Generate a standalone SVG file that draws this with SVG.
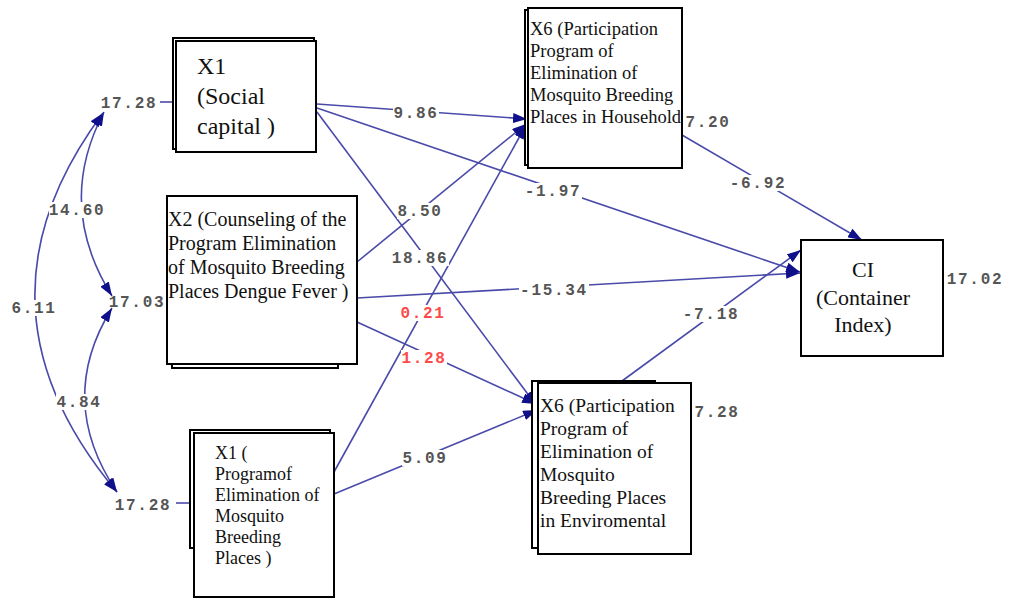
<svg xmlns="http://www.w3.org/2000/svg" width="1010" height="599" viewBox="0 0 1010 599">
<style>
.box{fill:#fff;stroke:#000;stroke-width:2}
.lbl{font-family:"Liberation Serif","DejaVu Serif",serif;fill:#111}
.edge{fill:none;stroke:#4a4aaa;stroke-width:1.6}
.num{font-family:"Liberation Mono","DejaVu Sans Mono",monospace;font-weight:bold;font-size:16px;letter-spacing:1.7px;fill:#555;text-anchor:middle}
.bg{fill:#fff}
.red{fill:#ff4a4a}
</style>
<defs>
<marker id="ah" markerUnits="userSpaceOnUse" markerWidth="14" markerHeight="10" viewBox="0 0 14 10" refX="14" refY="5" orient="auto-start-reverse">
<path d="M0,0 L14,5 L0,10 z" fill="#10108a"/>
</marker>
</defs>
<rect width="1010" height="599" fill="#fff"/>

<g id="connectors">
<path class="edge" d="M104,112 Q55,205 112,296" marker-start="url(#ah)" marker-end="url(#ah)"/>
<path class="edge" d="M103,113 Q-40,305 117,492" marker-start="url(#ah)" marker-end="url(#ah)"/>
<path class="edge" d="M112,308 Q55,400 117,492" marker-start="url(#ah)" marker-end="url(#ah)"/>
<path class="edge" d="M160,102 L176,102"/>
<path class="edge" d="M176,503 L190,503"/>
<path class="edge" d="M317,104 L527,119" marker-end="url(#ah)"/>
<path class="edge" d="M317,108 L800,272" marker-end="url(#ah)"/>
<path class="edge" d="M317,112 L536,405" marker-end="url(#ah)"/>
<path class="edge" d="M357,262 L526,124" marker-end="url(#ah)"/>
<path class="edge" d="M357,298 L800,273" marker-end="url(#ah)"/>
<path class="edge" d="M357,322 L536,404" marker-end="url(#ah)"/>
<path class="edge" d="M334,472 L526,125" marker-end="url(#ah)"/>
<path class="edge" d="M334,494 L537,410" marker-end="url(#ah)"/>
<path class="edge" d="M682,135 L862,240" marker-end="url(#ah)"/>
<path class="edge" d="M622,381 L801,250" marker-end="url(#ah)"/>
<rect class="bg" x="49" y="202" width="56" height="16"/>
<rect class="bg" x="11" y="300" width="46" height="16"/>
<rect class="bg" x="56" y="394" width="46" height="16"/>
<rect class="bg" x="393" y="105" width="46" height="16"/>
<rect class="bg" x="524" y="183" width="58" height="16"/>
<rect class="bg" x="397" y="203" width="46" height="16"/>
<rect class="bg" x="391" y="250" width="58" height="16"/>
<rect class="bg" x="519" y="282" width="70" height="16"/>
<rect class="bg" x="400" y="305" width="46" height="16"/>
<rect class="bg" x="401" y="350" width="46" height="16"/>
<rect class="bg" x="402" y="450" width="46" height="16"/>
<rect class="bg" x="729" y="175" width="58" height="16"/>
<rect class="bg" x="682" y="306" width="58" height="16"/>
<text class="num" x="77" y="215">14.60</text>
<text class="num" x="34" y="313">6.11</text>
<text class="num" x="79" y="407">4.84</text>
<text class="num" x="416" y="118">9.86</text>
<text class="num" x="553" y="196">-1.97</text>
<text class="num" x="420" y="216">8.50</text>
<text class="num" x="420" y="263">18.86</text>
<text class="num" x="554" y="295">-15.34</text>
<text class="num red" x="423" y="318">0.21</text>
<text class="num red" x="424" y="363">1.28</text>
<text class="num" x="425" y="463">5.09</text>
<text class="num" x="758" y="188">-6.92</text>
<text class="num" x="711" y="319">-7.18</text>
</g>

<g id="x1-social">
<rect class="box" x="173" y="38" width="141" height="111"/>
<rect class="box" x="176" y="41" width="140" height="111"/>
<text class="lbl" font-size="24" x="197" y="74">X1</text>
<text class="lbl" font-size="24" x="197" y="104">(Social</text>
<text class="lbl" font-size="24" x="197" y="134">capital )</text>
<text class="num" x="129" y="108">17.28</text>
</g>

<g id="x2-counseling">
<rect class="box" x="172" y="200" width="166" height="168"/>
<rect class="box" x="167" y="196" width="190" height="168"/>
<text class="lbl" font-size="20" x="168" y="226">X2 (Counseling of the</text>
<text class="lbl" font-size="20" x="168" y="250">Program Elimination</text>
<text class="lbl" font-size="20" x="168" y="274">of Mosquito Breeding</text>
<text class="lbl" font-size="20" x="168" y="298">Places Dengue Fever )</text>
<text class="num" x="137" y="307">17.03</text>
</g>

<g id="x1-program">
<rect class="box" x="190" y="430" width="140" height="118"/>
<rect class="box" x="194" y="433" width="140" height="164"/>
<text class="lbl" font-size="18" x="215" y="459">X1 (</text>
<text class="lbl" font-size="18" x="215" y="480">Programof</text>
<text class="lbl" font-size="18" x="215" y="501">Elimination of</text>
<text class="lbl" font-size="18" x="215" y="522">Mosquito</text>
<text class="lbl" font-size="18" x="215" y="543">Breeding</text>
<text class="lbl" font-size="18" x="215" y="564">Places  )</text>
<text class="num" x="143" y="510">17.28</text>
</g>

<g id="x6-household">
<rect class="box" x="525" y="10" width="150" height="155"/>
<rect class="box" x="528" y="8" width="154" height="160"/>
<text class="lbl" font-size="18.5" x="530" y="35">X6 (Participation</text>
<text class="lbl" font-size="18.5" x="530" y="57">Program of</text>
<text class="lbl" font-size="18.5" x="530" y="79">Elimination of</text>
<text class="lbl" font-size="18.5" x="530" y="101">Mosquito Breeding</text>
<text class="lbl" font-size="18.5" x="530" y="123">Places in Household</text>
<text class="num" x="708" y="127">7.20</text>
</g>

<g id="x6-environmental">
<rect class="box" x="532" y="381" width="123" height="167"/>
<rect class="box" x="538" y="383" width="153" height="171"/>
<text class="lbl" font-size="19.5" x="540" y="412">X6 (Participation</text>
<text class="lbl" font-size="19.5" x="540" y="435">Program of</text>
<text class="lbl" font-size="19.5" x="540" y="458">Elimination of</text>
<text class="lbl" font-size="19.5" x="540" y="481">Mosquito</text>
<text class="lbl" font-size="19.5" x="540" y="504">Breeding Places</text>
<text class="lbl" font-size="19.5" x="540" y="527">in Enviromental</text>
<text class="num" x="717" y="417">7.28</text>
</g>

<g id="ci">
<rect class="box" x="801" y="240" width="142" height="116"/>
<text class="lbl" font-size="22" x="863" y="277" text-anchor="middle" fill="#202040">CI</text>
<text class="lbl" font-size="22" x="863" y="305" text-anchor="middle" fill="#202040">(Container</text>
<text class="lbl" font-size="22" x="863" y="332" text-anchor="middle" fill="#202040">Index)</text>
<text class="num" x="975" y="284">17.02</text>
</g>
</svg>
